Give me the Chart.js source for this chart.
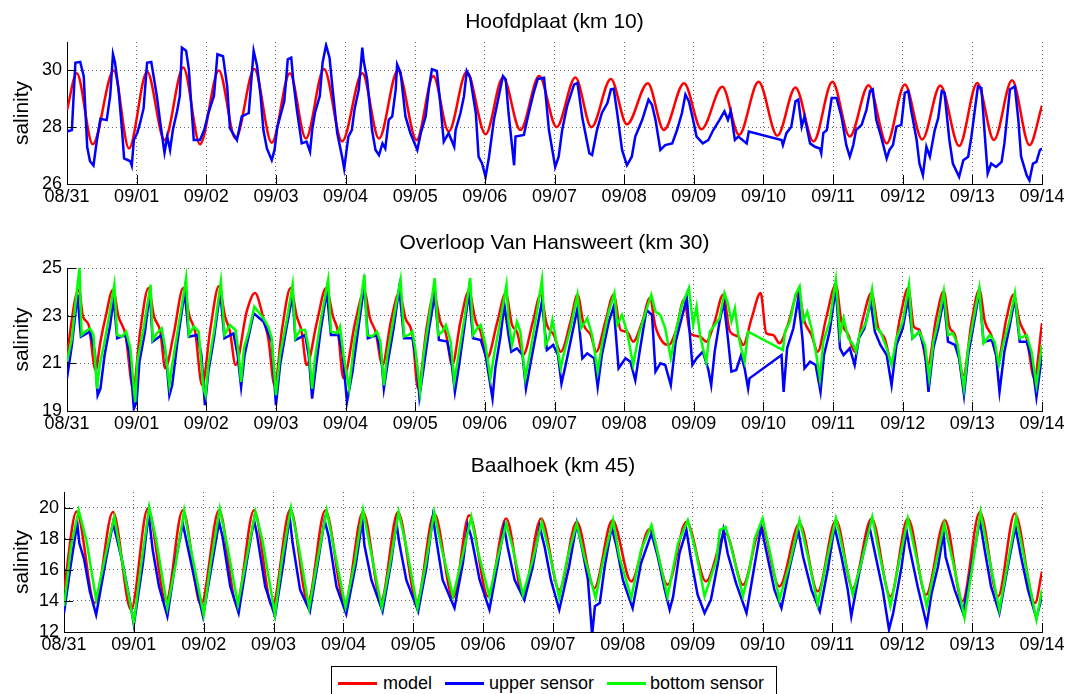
<!DOCTYPE html>
<html>
<head>
<meta charset="utf-8">
<script src="https://cdn.jsdelivr.net/npm/chart.js@4"></script>
<style>
    body { margin: 0; background: #fff; width: 1069px; height: 694px; overflow: hidden; position: relative; }
    canvas { position: absolute; left: 0; }
    #legend { position: absolute; left: 331px; top: 666px; width: 446px; height: 40px; border: 1px solid #000; box-sizing: border-box;
        font-family: "Liberation Sans", Arial, Helvetica, sans-serif; font-size: 18px; color: #000; }
    #legend .key { position: absolute; top: 15px; width: 39px; height: 2.5px; }
    #legend .lab { position: absolute; top: 6px; line-height: 20px; white-space: nowrap; }
</style>
</head>
<body>
<canvas id="panel-1" width="1069" height="215" style="top:0px"></canvas>
<canvas id="panel-2" width="1069" height="225" style="top:215px"></canvas>
<canvas id="panel-3" width="1069" height="225" style="top:440px"></canvas>
<div id="legend">
    <span class="key" style="left:6px;background:#ff0000"></span><span class="lab" style="left:51px">model</span>
    <span class="key" style="left:113px;background:#0000ff"></span><span class="lab" style="left:157px">upper sensor</span>
    <span class="key" style="left:275px;background:#00ff00"></span><span class="lab" style="left:318px">bottom sensor</span>
</div>
<script>
'use strict'

// days since 08/31 00:00
let dayTicks = [0, 1, 2, 3, 4, 5, 6, 7, 8, 9, 10, 11, 12, 13, 14];
let dayLabels = ["08/31", "09/01", "09/02", "09/03", "09/04", "09/05", "09/06", "09/07",
    "09/08", "09/09", "09/10", "09/11", "09/12", "09/13", "09/14"];

let hoofdTicks = [26, 28, 30];
let hansTicks = [19, 21, 23, 25];
let baalTicks = [12, 14, 16, 18, 20];

// Hoofdplaat (km 10)
let hoofdModel = [[0,28.6],[0.14,29.9],[0.37,27.4],[0.67,30.0],[0.89,27.25],[1.15,29.95],[1.4,27.55],[1.67,30.1],[1.91,27.4],[2.18,30.0],[2.42,27.6],[2.69,30.05],[2.94,27.45],[3.2,29.9],[3.43,27.6],[3.69,30.05],[3.95,27.5],[4.24,29.9],[4.48,27.6],[4.75,30.0],[5.02,27.55],[5.26,29.8],[5.48,27.85],[5.74,29.95],[6.01,27.75],[6.26,29.75],[6.51,27.9],[6.78,29.8],[7.03,28.0],[7.3,29.75],[7.53,28.0],[7.81,29.7],[8.04,28.1],[8.34,29.55],[8.57,27.9],[8.86,29.55],[9.11,27.93],[9.41,29.42],[9.65,27.73],[9.93,29.6],[10.2,27.7],[10.46,29.4],[10.72,27.5],[10.99,29.6],[11.24,27.67],[11.51,29.48],[11.77,27.43],[12.03,29.5],[12.28,27.57],[12.54,29.47],[12.81,27.34],[13.07,29.56],[13.31,27.55],[13.57,29.65],[13.82,27.37],[14.0,28.76]];
let hoofdUpper = [[0,27.85],[0.07,27.9],[0.12,30.27],[0.19,30.3],[0.24,29.8],[0.29,27.3],[0.33,26.8],[0.38,26.65],[0.43,27.55],[0.48,28.3],[0.57,28.25],[0.62,29.1],[0.66,30.57],[0.69,30.27],[0.74,29.33],[0.79,27.9],[0.82,26.9],[0.91,26.8],[0.93,26.65],[0.96,27.55],[1.01,27.8],[1.05,28.15],[1.1,28.67],[1.15,30.27],[1.21,30.3],[1.29,29.1],[1.34,28.15],[1.4,27.1],[1.44,27.67],[1.48,27.2],[1.52,27.9],[1.58,28.55],[1.62,29.1],[1.65,30.8],[1.71,30.69],[1.75,30.04],[1.82,27.55],[1.91,27.55],[1.97,27.9],[2.03,28.5],[2.11,29.1],[2.16,30.57],[2.24,30.5],[2.3,29.44],[2.34,27.96],[2.44,27.55],[2.51,28.38],[2.61,28.5],[2.64,29.44],[2.68,30.69],[2.73,30.15],[2.78,29.1],[2.82,27.9],[2.87,27.25],[2.94,26.84],[2.98,27.2],[3.02,28.0],[3.12,28.91],[3.17,30.39],[3.22,30.45],[3.25,29.62],[3.3,28.62],[3.37,27.43],[3.44,27.49],[3.49,27.14],[3.52,27.9],[3.56,28.5],[3.63,29.1],[3.67,30.27],[3.72,30.89],[3.77,30.45],[3.81,29.44],[3.88,27.79],[3.95,26.96],[3.98,26.54],[4.04,27.67],[4.09,27.9],[4.13,28.65],[4.19,29.33],[4.24,30.8],[4.26,30.33],[4.31,29.68],[4.38,27.9],[4.43,27.2],[4.48,27.02],[4.53,27.43],[4.57,27.25],[4.62,28.26],[4.67,28.38],[4.72,29.33],[4.74,30.21],[4.79,29.92],[4.86,28.38],[4.93,27.79],[5.03,27.2],[5.08,27.79],[5.15,28.38],[5.2,29.44],[5.24,30.04],[5.31,29.98],[5.36,28.85],[5.41,27.49],[5.48,27.79],[5.56,27.31],[5.58,27.9],[5.65,28.5],[5.7,29.09],[5.74,29.98],[5.79,29.74],[5.87,28.5],[5.91,26.96],[5.96,26.72],[6.01,26.25],[6.06,26.96],[6.13,28.26],[6.2,29.09],[6.26,29.8],[6.3,29.68],[6.34,28.5],[6.42,26.66],[6.44,27.67],[6.56,27.73],[6.63,28.5],[6.7,29.21],[6.76,29.7],[6.85,29.74],[6.92,27.9],[7.01,26.6],[7.06,26.96],[7.11,27.9],[7.18,28.73],[7.28,29.5],[7.33,29.56],[7.4,28.32],[7.5,27.08],[7.54,27.02],[7.61,27.9],[7.68,28.5],[7.76,28.85],[7.81,29.33],[7.85,29.35],[7.9,28.5],[7.97,27.2],[8.04,26.66],[8.11,26.96],[8.16,27.67],[8.26,28.26],[8.35,28.97],[8.4,28.79],[8.45,28.26],[8.52,27.2],[8.59,27.37],[8.69,27.43],[8.76,27.9],[8.83,28.5],[8.88,29.15],[8.93,28.91],[8.98,28.38],[9.04,27.67],[9.13,27.43],[9.21,27.55],[9.28,27.9],[9.37,28.26],[9.44,28.56],[9.49,28.26],[9.53,28.56],[9.59,27.55],[9.64,27.67],[9.76,27.43],[9.79,27.85],[10.26,27.55],[10.28,27.37],[10.33,27.79],[10.4,28.02],[10.46,28.91],[10.5,28.97],[10.55,28.02],[10.59,28.38],[10.67,27.43],[10.74,27.31],[10.81,27.25],[10.83,27.08],[10.86,27.79],[10.91,27.9],[10.98,29.03],[11.05,29.03],[11.12,28.38],[11.19,27.37],[11.24,26.96],[11.29,27.37],[11.33,27.9],[11.41,28.08],[11.48,28.62],[11.53,29.27],[11.57,29.33],[11.62,28.26],[11.69,27.67],[11.77,26.9],[11.81,27.2],[11.86,27.37],[11.91,28.02],[11.98,28.08],[12.03,29.21],[12.08,29.27],[12.12,28.62],[12.2,27.55],[12.24,26.72],[12.29,26.31],[12.34,27.31],[12.39,26.96],[12.46,27.9],[12.51,28.32],[12.56,29.27],[12.6,29.21],[12.67,27.55],[12.72,26.72],[12.81,26.25],[12.87,26.84],[12.94,26.96],[12.99,27.73],[13.03,28.5],[13.08,29.44],[13.13,29.38],[13.18,27.67],[13.22,26.37],[13.27,26.72],[13.34,26.6],[13.42,26.78],[13.46,27.43],[13.54,29.33],[13.61,29.44],[13.66,28.26],[13.7,26.96],[13.78,26.31],[13.82,26.13],[13.87,26.72],[13.92,26.78],[13.97,27.2],[14.0,27.25]];

// Overloop Van Hansweert (km 30)
let hansModel = [[0,21.35],[0.12,23.74],[0.17,24.09],[0.23,22.96],[0.31,22.61],[0.41,20.72],[0.48,21.91],[0.55,22.89],[0.66,24.09],[0.74,22.96],[0.84,22.19],[0.95,19.94],[1.05,22.33],[1.17,24.16],[1.25,22.96],[1.34,22.33],[1.41,20.79],[1.53,22.19],[1.67,24.16],[1.76,22.96],[1.84,22.33],[1.94,20.08],[2.06,22.47],[2.18,24.23],[2.27,22.96],[2.34,22.33],[2.42,20.93],[2.58,23.17],[2.7,23.95],[2.82,22.89],[2.89,22.05],[2.98,20.08],[3.09,22.47],[3.21,24.16],[3.3,22.96],[3.37,22.33],[3.44,20.93],[3.59,22.75],[3.72,24.16],[3.82,22.96],[3.89,22.33],[3.97,20.37],[4.14,22.75],[4.27,24.02],[4.35,22.89],[4.43,22.33],[4.53,20.93],[4.65,22.75],[4.77,23.95],[4.86,22.89],[4.96,22.19],[5.04,19.94],[5.17,22.61],[5.27,23.88],[5.36,22.75],[5.44,22.26],[5.53,20.93],[5.65,22.75],[5.77,24.02],[5.87,22.75],[5.94,22.33],[6.03,21.21],[6.18,22.75],[6.3,23.95],[6.39,22.61],[6.46,22.33],[6.55,21.35],[6.69,22.75],[6.8,23.88],[6.89,22.61],[6.99,22.19],[7.09,21.49],[7.23,22.75],[7.33,23.88],[7.42,22.61],[7.52,22.19],[7.6,21.49],[7.73,22.75],[7.85,23.88],[7.95,22.4],[8.04,22.33],[8.13,21.91],[8.26,22.75],[8.37,23.74],[8.45,22.54],[8.55,21.91],[8.64,21.77],[8.74,22.33],[8.86,23.67],[8.95,22.26],[9.09,22.12],[9.18,21.91],[9.3,22.75],[9.42,23.88],[9.52,22.33],[9.64,22.12],[9.71,21.77],[9.83,22.89],[9.96,23.95],[10.04,22.26],[10.14,22.19],[10.23,21.84],[10.35,22.61],[10.5,23.95],[10.59,22.75],[10.69,22.19],[10.78,21.49],[10.9,22.89],[11.04,24.3],[11.12,22.75],[11.22,22.19],[11.31,21.49],[11.43,22.89],[11.55,23.95],[11.65,22.47],[11.74,22.05],[11.84,21.07],[11.96,22.89],[12.08,24.16],[12.16,22.54],[12.24,22.4],[12.36,20.93],[12.48,22.89],[12.59,24.02],[12.67,22.54],[12.75,22.19],[12.87,20.51],[12.99,22.75],[13.1,24.09],[13.18,22.75],[13.27,22.19],[13.37,21.21],[13.49,22.89],[13.59,23.88],[13.68,22.75],[13.78,22.05],[13.89,20.37],[14.0,22.68]];
let hansUpper = [[0,20.37],[0.07,21.77],[0.15,23.88],[0.2,22.12],[0.33,22.33],[0.4,21.49],[0.44,19.66],[0.48,19.94],[0.54,21.35],[0.62,22.61],[0.67,23.74],[0.72,22.05],[0.84,22.19],[0.9,21.35],[0.96,19.1],[1.0,19.38],[1.04,21.07],[1.12,22.33],[1.19,24.02],[1.23,21.91],[1.36,22.19],[1.42,21.35],[1.47,19.66],[1.51,20.08],[1.58,21.77],[1.69,24.02],[1.75,22.12],[1.87,22.19],[1.93,21.35],[1.98,19.24],[2.03,20.65],[2.11,22.05],[2.2,24.02],[2.26,22.05],[2.39,22.26],[2.45,21.35],[2.5,20.01],[2.55,21.35],[2.68,23.1],[2.82,22.75],[2.94,21.91],[3.0,19.24],[3.06,20.93],[3.15,22.47],[3.24,23.88],[3.28,21.98],[3.42,22.19],[3.47,21.35],[3.52,19.52],[3.56,20.51],[3.64,22.33],[3.73,24.02],[3.79,22.19],[3.9,22.19],[3.96,21.35],[4.02,19.38],[4.1,20.65],[4.19,22.61],[4.27,24.3],[4.32,22.05],[4.45,22.19],[4.51,21.35],[4.55,19.94],[4.6,20.93],[4.69,22.47],[4.77,24.16],[4.84,22.05],[4.96,22.05],[5.02,21.07],[5.06,19.59],[5.12,20.79],[5.2,22.47],[5.28,23.88],[5.34,21.98],[5.46,21.91],[5.52,21.07],[5.57,19.8],[5.63,20.93],[5.71,22.61],[5.77,24.02],[5.83,22.05],[5.94,21.98],[6.01,21.35],[6.11,19.52],[6.15,20.79],[6.22,22.05],[6.28,23.45],[6.34,22.19],[6.38,21.49],[6.46,21.63],[6.54,21.35],[6.59,19.94],[6.66,21.07],[6.75,22.47],[6.82,23.59],[6.89,21.56],[6.98,21.77],[7.05,21.35],[7.1,20.15],[7.16,20.93],[7.25,22.19],[7.33,23.31],[7.4,21.21],[7.47,21.42],[7.57,21.21],[7.62,20.01],[7.68,21.35],[7.78,22.75],[7.85,23.38],[7.92,20.79],[8.02,21.21],[8.09,21.07],[8.16,20.29],[8.23,21.63],[8.32,23.24],[8.4,23.03],[8.45,20.65],[8.52,21.0],[8.59,20.93],[8.67,20.08],[8.74,21.91],[8.9,23.74],[8.98,20.93],[9.04,21.21],[9.13,21.49],[9.21,20.72],[9.25,20.08],[9.3,21.49],[9.37,22.75],[9.43,23.59],[9.49,22.05],[9.54,20.65],[9.61,20.72],[9.68,21.35],[9.73,20.79],[9.78,19.94],[9.8,20.37],[10.26,21.35],[10.29,19.8],[10.34,21.63],[10.43,22.47],[10.5,23.74],[10.56,22.05],[10.59,20.79],[10.67,21.07],[10.75,20.93],[10.82,19.8],[10.87,21.35],[10.95,22.33],[11.04,24.16],[11.1,21.63],[11.15,21.35],[11.24,21.63],[11.31,20.93],[11.37,22.05],[11.45,22.47],[11.54,23.59],[11.6,22.33],[11.68,21.77],[11.77,21.35],[11.84,20.08],[11.91,21.77],[12.0,22.47],[12.08,23.74],[12.14,22.05],[12.24,22.33],[12.32,21.49],[12.37,19.8],[12.44,21.63],[12.51,22.47],[12.59,23.74],[12.65,21.91],[12.75,21.77],[12.81,21.21],[12.88,19.66],[12.94,21.35],[13.01,22.47],[13.1,24.02],[13.16,21.91],[13.28,21.98],[13.34,21.35],[13.39,19.8],[13.46,21.49],[13.53,22.47],[13.61,23.74],[13.68,21.91],[13.78,21.91],[13.85,21.21],[13.92,19.59],[14.0,21.35]];
let hansBottom = [[0,21.07],[0.07,22.05],[0.13,23.74],[0.18,25.0],[0.21,22.19],[0.26,22.33],[0.33,22.47],[0.38,22.19],[0.43,19.94],[0.47,20.93],[0.53,21.77],[0.6,22.89],[0.68,24.3],[0.72,22.19],[0.79,22.12],[0.85,22.33],[0.91,21.63],[0.96,19.94],[0.98,19.38],[1.01,21.07],[1.1,22.47],[1.2,24.3],[1.23,21.98],[1.29,22.26],[1.36,22.47],[1.41,21.63],[1.47,20.08],[1.51,20.93],[1.58,22.19],[1.65,23.45],[1.71,24.58],[1.75,22.19],[1.82,22.54],[1.89,22.33],[1.96,19.94],[1.99,19.66],[2.03,20.93],[2.11,22.33],[2.21,24.44],[2.26,22.19],[2.34,22.61],[2.42,22.4],[2.46,21.49],[2.5,20.22],[2.54,21.63],[2.61,22.33],[2.69,23.38],[2.82,22.89],[2.89,22.54],[2.94,22.05],[3.0,19.66],[3.06,21.35],[3.16,22.89],[3.24,24.3],[3.28,22.05],[3.35,22.4],[3.42,22.4],[3.47,21.63],[3.52,19.94],[3.56,21.21],[3.64,22.75],[3.75,24.51],[3.79,22.33],[3.88,22.26],[3.92,22.54],[3.97,21.35],[4.05,19.94],[4.12,21.77],[4.19,23.03],[4.27,24.72],[4.31,22.19],[4.38,22.12],[4.45,22.33],[4.5,21.91],[4.55,20.08],[4.6,21.35],[4.69,22.89],[4.79,24.51],[4.84,22.12],[4.91,22.19],[4.96,22.33],[5.0,21.63],[5.07,19.8],[5.12,21.35],[5.2,22.89],[5.28,24.58],[5.33,22.19],[5.39,22.33],[5.44,22.61],[5.51,21.91],[5.56,20.22],[5.63,21.49],[5.71,22.96],[5.79,24.58],[5.83,22.19],[5.89,22.47],[5.94,22.61],[6.01,21.77],[6.08,20.37],[6.14,21.49],[6.22,22.75],[6.31,24.3],[6.34,22.75],[6.39,21.77],[6.46,22.75],[6.51,22.33],[6.58,20.37],[6.66,21.63],[6.75,23.17],[6.82,24.51],[6.87,21.77],[6.92,22.05],[6.97,22.82],[7.01,22.19],[7.09,20.79],[7.13,21.35],[7.23,22.47],[7.33,23.88],[7.38,22.47],[7.47,22.89],[7.54,22.19],[7.62,20.65],[7.68,21.77],[7.78,23.17],[7.86,23.95],[7.9,22.61],[7.97,23.03],[8.04,22.33],[8.13,20.93],[8.21,22.19],[8.31,23.17],[8.39,23.88],[8.45,23.17],[8.52,23.03],[8.59,22.47],[8.67,21.21],[8.74,22.33],[8.83,23.45],[8.93,24.16],[8.99,22.61],[9.04,23.38],[9.09,22.19],[9.13,21.63],[9.18,21.07],[9.23,22.33],[9.3,22.61],[9.37,22.89],[9.44,23.95],[9.49,23.52],[9.54,22.75],[9.59,23.31],[9.64,22.19],[9.68,21.63],[9.73,21.07],[9.78,22.33],[10.28,21.56],[10.31,22.33],[10.38,22.75],[10.46,23.88],[10.52,24.23],[10.57,22.75],[10.63,23.17],[10.69,22.47],[10.76,21.35],[10.81,20.37],[10.86,21.91],[10.95,22.75],[11.04,24.51],[11.1,22.19],[11.15,22.89],[11.22,22.05],[11.29,21.77],[11.33,21.49],[11.38,22.19],[11.48,22.75],[11.56,24.09],[11.62,22.47],[11.68,22.33],[11.77,21.63],[11.84,20.93],[11.91,22.05],[12.0,22.75],[12.09,24.3],[12.14,22.05],[12.24,22.33],[12.32,21.77],[12.38,20.37],[12.44,21.91],[12.51,22.75],[12.59,24.02],[12.65,22.19],[12.72,22.26],[12.79,21.77],[12.88,19.94],[12.94,21.63],[13.01,22.75],[13.1,24.16],[13.16,21.84],[13.25,22.19],[13.32,21.91],[13.38,20.93],[13.44,21.77],[13.53,22.75],[13.61,23.95],[13.68,22.05],[13.78,22.19],[13.85,21.49],[13.92,20.08],[14.0,21.77]];

// Baalhoek (km 45)
let baalModel = [[0,14.71],[0.18,19.75],[0.44,13.86],[0.7,19.72],[0.96,13.43],[1.2,19.94],[1.46,13.97],[1.7,19.83],[1.96,13.75],[2.22,19.83],[2.47,13.86],[2.72,19.83],[2.98,13.65],[3.24,19.87],[3.49,13.97],[3.74,19.83],[4.02,13.86],[4.28,19.72],[4.54,14.07],[4.78,19.72],[5.05,13.97],[5.3,19.62],[5.57,14.18],[5.8,19.51],[6.07,14.29],[6.33,19.3],[6.57,14.39],[6.83,19.3],[7.09,14.71],[7.34,19.08],[7.59,14.82],[7.85,19.19],[8.12,15.25],[8.38,18.6],[8.64,15.03],[8.91,19.08],[9.19,15.25],[9.47,18.34],[9.72,15.03],[9.98,18.76],[10.24,14.93],[10.53,18.98],[10.79,14.61],[11.05,19.19],[11.29,14.82],[11.56,19.3],[11.83,14.29],[12.08,19.3],[12.34,14.39],[12.61,19.19],[12.86,13.97],[13.11,19.72],[13.37,14.29],[13.61,19.62],[13.9,13.86],[14.0,15.89]];
let baalUpper = [[0,13.22],[0.1,16.42],[0.19,18.98],[0.22,17.7],[0.29,16.63],[0.37,14.61],[0.46,13.11],[0.6,16.63],[0.7,18.98],[0.75,18.12],[0.84,16.42],[0.94,14.07],[1.0,12.47],[1.13,16.42],[1.21,19.62],[1.27,17.27],[1.36,14.93],[1.48,13.01],[1.6,16.63],[1.7,18.98],[1.74,18.12],[1.86,15.57],[1.99,13.01],[2.12,16.42],[2.22,19.08],[2.27,18.12],[2.38,14.93],[2.5,13.22],[2.62,16.63],[2.72,19.19],[2.76,18.34],[2.88,14.93],[3.02,13.01],[3.14,16.42],[3.23,19.4],[3.27,17.8],[3.38,14.71],[3.52,13.33],[3.64,16.63],[3.73,19.19],[3.79,18.12],[3.9,14.93],[4.04,13.15],[4.18,16.42],[4.27,19.19],[4.3,17.59],[4.4,15.35],[4.56,13.33],[4.68,16.42],[4.76,18.98],[4.8,17.7],[4.9,15.35],[5.07,13.33],[5.19,16.2],[5.28,19.4],[5.33,17.91],[5.42,15.35],[5.59,13.54],[5.71,16.42],[5.78,18.87],[5.83,18.12],[5.95,15.35],[6.09,13.43],[6.21,16.42],[6.3,18.76],[6.35,17.48],[6.45,15.35],[6.59,14.07],[6.71,16.2],[6.81,18.76],[6.88,17.48],[6.97,15.35],[7.09,13.43],[7.23,16.2],[7.34,18.98],[7.43,17.06],[7.5,15.35],[7.56,11.8],[7.6,13.65],[7.67,13.86],[7.74,16.2],[7.84,18.76],[7.91,17.48],[8.0,15.35],[8.14,13.54],[8.26,16.42],[8.41,18.34],[8.5,16.84],[8.6,14.71],[8.67,13.43],[8.72,14.29],[8.81,17.06],[8.91,18.55],[8.97,16.84],[9.07,14.4],[9.17,13.22],[9.26,14.07],[9.36,16.42],[9.44,18.55],[9.5,17.06],[9.62,15.14],[9.77,13.22],[9.89,16.42],[9.98,18.76],[10.05,17.27],[10.17,14.71],[10.27,13.54],[10.39,16.2],[10.51,18.55],[10.58,16.84],[10.7,14.71],[10.82,13.33],[10.94,16.2],[11.03,18.76],[11.13,16.84],[11.22,14.71],[11.27,13.01],[11.39,15.99],[11.53,18.76],[11.63,16.63],[11.72,14.71],[11.81,12.15],[11.87,13.22],[11.99,16.2],[12.06,18.55],[12.1,17.48],[12.22,14.93],[12.35,12.47],[12.42,14.5],[12.51,16.2],[12.59,18.34],[12.62,16.84],[12.75,14.71],[12.87,13.22],[13.0,16.42],[13.11,19.19],[13.18,17.27],[13.27,14.93],[13.39,13.22],[13.51,16.2],[13.62,18.76],[13.7,16.84],[13.8,14.71],[13.92,12.9],[14.0,14.29]];
let baalBottom = [[0,13.65],[0.1,17.48],[0.21,19.83],[0.32,17.91],[0.46,14.07],[0.59,16.84],[0.72,19.4],[0.82,16.84],[1.0,12.58],[1.1,16.2],[1.22,20.04],[1.32,17.91],[1.48,13.54],[1.6,16.42],[1.72,19.83],[1.81,17.48],[2.0,13.11],[2.1,16.42],[2.23,19.94],[2.34,17.48],[2.49,13.75],[2.6,16.42],[2.74,19.72],[2.84,17.91],[3.02,13.11],[3.12,16.63],[3.25,20.0],[3.36,17.48],[3.51,13.54],[3.62,16.42],[3.76,19.83],[3.86,17.48],[4.03,13.6],[4.16,16.42],[4.28,19.87],[4.38,17.48],[4.55,13.54],[4.66,16.2],[4.79,19.72],[4.9,17.48],[5.06,13.54],[5.18,16.42],[5.3,19.72],[5.4,17.48],[5.57,14.29],[5.68,16.42],[5.83,19.4],[5.92,17.27],[6.09,14.29],[6.19,16.42],[6.33,18.98],[6.42,17.48],[6.57,14.39],[6.71,16.63],[6.84,19.08],[6.95,17.06],[7.09,14.18],[7.21,16.84],[7.34,18.98],[7.45,16.84],[7.61,14.18],[7.71,16.42],[7.86,19.19],[7.95,16.84],[8.12,14.18],[8.26,17.27],[8.41,18.87],[8.5,17.06],[8.64,14.29],[8.79,17.7],[8.93,19.19],[9.05,17.06],[9.17,14.29],[9.34,16.63],[9.39,18.55],[9.47,18.76],[9.55,17.48],[9.72,14.29],[9.81,15.99],[9.89,18.02],[10.0,19.3],[10.12,16.84],[10.24,14.07],[10.39,16.42],[10.53,19.19],[10.65,16.84],[10.79,13.75],[10.91,16.42],[11.05,19.3],[11.17,16.84],[11.29,14.39],[11.41,16.42],[11.57,19.4],[11.68,16.84],[11.83,13.65],[11.96,16.63],[12.08,19.3],[12.2,16.84],[12.35,13.65],[12.49,16.63],[12.6,18.98],[12.73,16.42],[12.89,12.9],[13.01,16.42],[13.12,19.72],[13.23,17.06],[13.39,13.43],[13.51,16.42],[13.63,19.4],[13.75,16.63],[13.92,12.79],[14.0,14.71]];

Chart.defaults.font.family = "'Liberation Sans', Arial, Helvetica, sans-serif";
Chart.defaults.color = "#000";

// matlab-style ticks pointing into the plot
let inwardTicks = {
    id: "inwardTicks",
    afterDraw: function (chart) {
        let ctx = chart.ctx;
        let area = chart.chartArea;
        let xs = chart.scales.x;
        let ys = chart.scales.y;
        ctx.save();
        ctx.strokeStyle = "#000";
        ctx.lineWidth = 1;
        ctx.beginPath();
        xs.ticks.forEach(function (t) {
            let px = Math.round(xs.getPixelForValue(t.value)) + 0.5;
            ctx.moveTo(px, area.bottom);
            ctx.lineTo(px, area.bottom - 9);
        });
        ys.ticks.forEach(function (t) {
            let py = Math.round(ys.getPixelForValue(t.value)) + 0.5;
            ctx.moveTo(area.left, py);
            ctx.lineTo(area.left + 9, py);
        });
        ctx.stroke();
        ctx.restore();
    },
};

function makePanel(id, title, box, yMin, yMax, yTicks, model, upper, bottom) {
    let datasets = [
        { label: "model", data: model, borderColor: "#ff0000", cubicInterpolationMode: "monotone", order: 3 },
        { label: "upper sensor", data: upper, borderColor: "#0000ff", order: 2 },
    ];
    if (bottom) {
        datasets.push({ label: "bottom sensor", data: bottom, borderColor: "#00ff00", order: 1 });
    }
    let ctx = document.getElementById(id).getContext("2d");
    return new Chart(ctx, {
        type: "line",
        data: { datasets: datasets },
        options: {
            responsive: false,
            animation: false,
            devicePixelRatio: 1,
            layout: { padding: { left: 0, right: 1069 - box.right, top: 0, bottom: 0 } },
            elements: {
                point: { radius: 0 },
                line: { borderWidth: 2.5, tension: 0, fill: false },
            },
            plugins: {
                legend: { display: false },
                tooltip: { enabled: false },
                title: {
                    display: true,
                    fullSize: false,
                    text: title,
                    color: "#000",
                    font: { size: 21, weight: "normal" },
                    padding: { top: box.titleTop, bottom: box.titleBottom },
                },
            },
            scales: {
                x: {
                    type: "linear",
                    min: 0,
                    max: 14,
                    afterBuildTicks: function (scale) {
                        scale.ticks = dayTicks.map(function (v) { return { value: v }; });
                    },
                    afterFit: function (scale) { scale.height = box.xHeight; },
                    ticks: {
                        autoSkip: false,
                        maxRotation: 0,
                        padding: 2,
                        font: { size: 18 },
                        callback: function (value, index) { return dayLabels[index]; },
                    },
                    grid: { drawTicks: false, color: "rgba(0,0,0,0.6)", lineWidth: 1 },
                    border: { display: true, color: "#000", width: 1, dash: [1, 3] },
                },
                y: {
                    min: yMin,
                    max: yMax,
                    afterBuildTicks: function (scale) {
                        scale.ticks = yTicks.map(function (v) { return { value: v }; });
                    },
                    afterFit: function (scale) { scale.width = box.left; },
                    ticks: { padding: 5, font: { size: 18 } },
                    grid: { drawTicks: false, color: "rgba(0,0,0,0.6)", lineWidth: 1 },
                    border: { display: true, color: "#000", width: 1, dash: [1, 3] },
                    title: {
                        display: true,
                        text: "salinity",
                        font: { size: 21 },
                        padding: { top: 9.4, bottom: 0 },
                    },
                },
            },
        },
        plugins: [inwardTicks],
    });
}

let chart1 = makePanel("panel-1", "Hoofdplaat (km 10)",
    { left: 67, right: 1042, titleTop: 9.4, titleBottom: 7.4, xHeight: 31 },
    26, 31, hoofdTicks, hoofdModel, hoofdUpper, null);

let chart2 = makePanel("panel-2", "Overloop Van Hansweert (km 30)",
    { left: 67, right: 1042, titleTop: 15.4, titleBottom: 12.4, xHeight: 29 },
    19, 25, hansTicks, hansModel, hansUpper, hansBottom);

let chart3 = makePanel("panel-3", "Baalhoek (km 45)",
    { left: 64, right: 1042, titleTop: 13.4, titleBottom: 13.4, xHeight: 33 },
    12, 21, baalTicks, baalModel, baalUpper, baalBottom);
</script>
</body>
</html>
